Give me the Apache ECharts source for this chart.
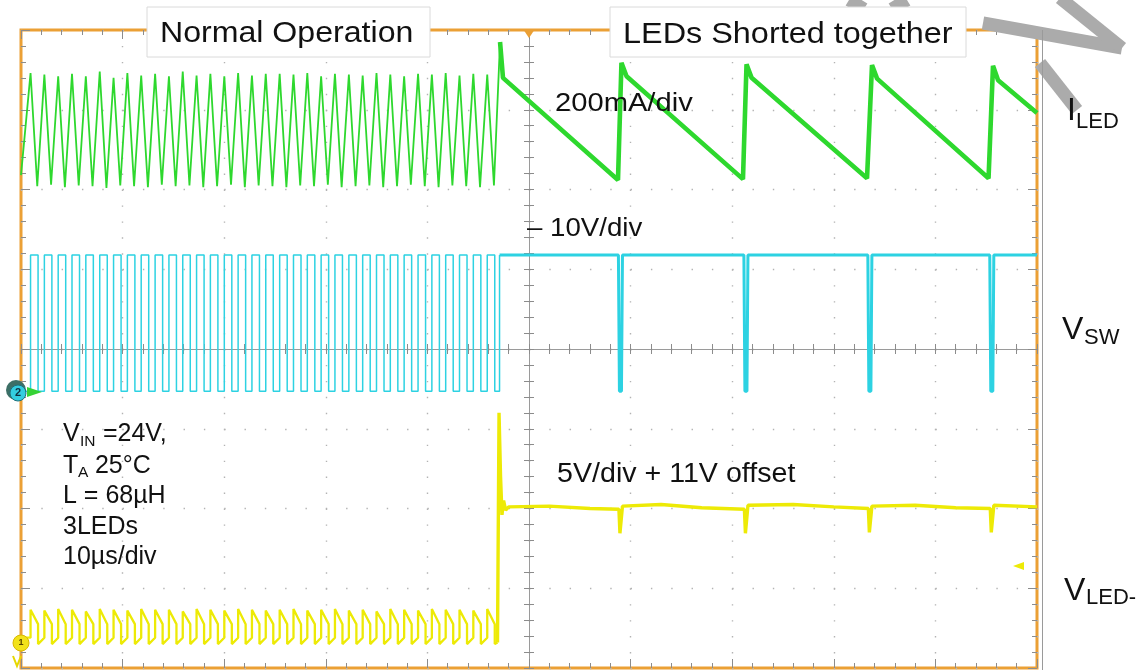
<!DOCTYPE html>
<html><head><meta charset="utf-8">
<script src="https://cdn.jsdelivr.net/npm/echarts@6/dist/echarts.min.js"></script>
<style>html,body{margin:0;padding:0;background:#fff}#c{width:1138px;height:670px}</style>
</head><body><div id="c"></div>
<script>
// ---- Axis ranges (time in µs, 10 µs/div, trigger at 0; vertical in divisions) ----
const xRange = [-50, 50];
const yRange = [-4, 4];

// ---- Normal operation: switching instants (µs) ----
const cycleT = [-49.06,-47.70,-46.34,-44.98,-43.62,-42.25,-40.89,-39.53,-38.17,-36.80,-35.44,-34.08,-32.72,-31.36,-29.99,-28.63,-27.27,-25.91,-24.54,-23.18,-21.82,-20.46,-19.10,-17.73,-16.37,-15.01,-13.65,-12.29,-10.92,-9.56,-8.20,-6.84,-5.48,-4.11];
const swFallT = [-48.32,-46.96,-45.60,-44.24,-42.88,-41.51,-40.15,-38.79,-37.43,-36.06,-34.70,-33.34,-31.98,-30.62,-29.25,-27.89,-26.53,-25.17,-23.80,-22.44,-21.08,-19.72,-18.36,-16.99,-15.63,-14.27,-12.91,-11.55,-10.18,-8.82,-7.46,-6.10,-4.74,-3.37];

// I_LED (green), divisions
const iledStart = [-50, 2.18];
const iledPeakV = [3.46,3.44,3.42,3.45,3.42,3.48,3.40,3.46,3.43,3.45,3.42,3.48,3.43,3.45,3.42,3.46,3.43,3.45,3.45,3.44,3.46,3.42,3.45,3.44,3.43,3.46,3.44,3.42,3.45,3.44,3.46,3.43,3.45,3.44];
const iledTroughT = [-48.40,-47.04,-45.68,-44.32,-42.96,-41.59,-40.23,-38.87,-37.51,-36.14,-34.78,-33.42,-32.06,-30.70,-29.33,-27.97,-26.61,-25.25,-23.88,-22.52,-21.16,-19.80,-18.44,-17.07,-15.71,-14.35,-12.99,-11.63,-10.26,-8.90,-7.54,-6.18,-4.82,-3.45];
const iledTroughV = [2.04,2.06,2.03,2.05,2.04,2.02,2.05,2.04,2.03,2.06,2.04,2.05,2.03,2.04,2.06,2.03,2.05,2.04,2.03,2.05,2.04,2.06,2.03,2.04,2.05,2.03,2.04,2.06,2.04,2.03,2.05,2.04,2.03,2.05];
// LEDs shorted
const iledShortT = [-2.85,-2.56,8.76,9.10,9.60,21.06,21.41,21.91,33.27,33.76,34.26,45.23,45.67,46.17,50];
const iledShortV = [3.85,3.40,2.12,3.59,3.42,2.13,3.57,3.40,2.14,3.56,3.39,2.14,3.55,3.37,2.96];

// V_SW (cyan), divisions
const swHighV = 1.18;
const swLowV = -0.53;
const swShortT = [-2.90,8.80,8.90,9.10,9.20,21.15,21.25,21.45,21.55,33.35,33.45,33.65,33.75,45.35,45.45,45.65,45.75,50];
const swShortV = [1.18,1.18,-0.53,-0.53,1.18,1.18,-0.53,-0.53,1.18,1.18,-0.53,-0.53,1.18,1.18,-0.53,-0.53,1.18,1.18];

// V_LED- (yellow), divisions
const vledPeakV = [-3.27,-3.28,-3.26,-3.27,-3.29,-3.26,-3.27,-3.28,-3.26,-3.27,-3.27,-3.29,-3.26,-3.27,-3.28,-3.26,-3.27,-3.28,-3.27,-3.26,-3.28,-3.27,-3.26,-3.28,-3.27,-3.29,-3.26,-3.27,-3.28,-3.26,-3.27,-3.27,-3.28,-3.26];
const vledMidV = -3.45;
const vledLowStartV = -3.70;
const vledLowEndV = -3.62;
const vledShortT = [-3.10,-2.95,-2.80,-2.66,-2.50,-2.30,-2.00,2.0,6.0,8.85,8.95,9.10,9.20,13.0,17.0,21.20,21.30,21.45,21.55,26.0,30.0,33.40,33.50,33.65,33.75,38.0,42.0,45.40,45.50,45.65,45.75,50];
const vledShortV = [-3.68,-0.80,-1.60,-2.08,-1.90,-2.02,-1.98,-1.97,-2.00,-2.01,-2.31,-2.31,-1.97,-1.95,-1.99,-2.01,-2.31,-2.31,-1.96,-1.95,-1.98,-2.00,-2.30,-2.30,-1.97,-1.96,-1.99,-2.00,-2.30,-2.30,-1.96,-1.98];

// ---- build series data from the arrays ----
const iledNormal = [iledStart];
for (let k = 0; k < cycleT.length; k++) {
  iledNormal.push([cycleT[k], iledPeakV[k]]);
  iledNormal.push([iledTroughT[k], iledTroughV[k]]);
}
iledNormal.push([iledShortT[0], iledShortV[0]]);
const iledShort = iledShortT.map((t, i) => [t, iledShortV[i]]);

const swNormal = [[xRange[0], swLowV]];
for (let k = 0; k < cycleT.length; k++) {
  swNormal.push([cycleT[k], swLowV], [cycleT[k], swHighV], [swFallT[k], swHighV], [swFallT[k], swLowV]);
}
swNormal.push([swShortT[0], swLowV], [swShortT[0], swHighV]);
const swShort = swShortT.map((t, i) => [t, swShortV[i]]);

const vledNormal = [[xRange[0], vledLowEndV]];
for (let k = 0; k < cycleT.length; k++) {
  vledNormal.push([cycleT[k], vledLowEndV], [cycleT[k], vledPeakV[k]], [swFallT[k], vledMidV], [swFallT[k], vledLowStartV]);
}
vledNormal.push([vledShortT[0], vledShortV[0]]);
const vledShort = vledShortT.map((t, i) => [t, vledShortV[i]]);

// ---- styling ----
const ORANGE = '#EBA035';
const GREEN = '#2ED82E';
const CYAN = '#2DD2E2';
const YELLOW = '#EDEA06';
const TICK = '#8c8c8c';
const FONT = "'Liberation Sans', Arial, sans-serif";

function xAxisDef(pos, onZero, inside, showLine, split) {
  return {
    type: 'value', min: xRange[0], max: xRange[1], interval: 10, position: pos,
    axisLine: { show: showLine, onZero: onZero, onZeroAxisIndex: 0, lineStyle: { color: '#9a9a9a', width: 1 } },
    axisTick: { show: true, inside: inside, length: onZero ? 5 : 9, lineStyle: { color: TICK, width: 1 } },
    minorTick: { show: true, splitNumber: 5, length: 5, lineStyle: { color: TICK, width: 1 } },
    axisLabel: { show: false },
    splitLine: { show: split, lineStyle: { color: '#b3b3b3', width: 1.4, type: [1.4, 14.55] } },
    minorSplitLine: { show: false }
  };
}
function yAxisDef(pos, onZero, inside, showLine, split) {
  return {
    type: 'value', min: yRange[0], max: yRange[1], interval: 1, position: pos,
    axisLine: { show: showLine, onZero: onZero, onZeroAxisIndex: 0, lineStyle: { color: '#9a9a9a', width: 1 } },
    axisTick: { show: true, inside: inside, length: onZero ? 5 : 9, lineStyle: { color: TICK, width: 1 } },
    minorTick: { show: true, splitNumber: 5, length: 5, lineStyle: { color: TICK, width: 1 } },
    axisLabel: { show: false },
    splitLine: { show: split, lineStyle: { color: '#b3b3b3', width: 1.4, type: [1.4, 18.92] } },
    minorSplitLine: { show: false }
  };
}

function txt(text, x, y, size, opts) {
  opts = opts || {};
  return {
    type: 'text', x: x, y: y, z: 101, scaleX: opts.sx || 1,
    style: { text: text, font: `${size}px ${FONT}`, fill: opts.fill || '#111', align: 'left', verticalAlign: 'middle' }
  };
}
function line(points, color, width, z) {
  return { type: 'polyline', z: z, shape: { points: points }, style: { stroke: color, lineWidth: width, fill: null } };
}

const chart = echarts.init(document.getElementById('c'), null, { renderer: 'canvas' });
chart.setOption({
  animation: false,
  backgroundColor: '#fff',
  grid: { left: 21, top: 30, width: 1016, height: 638, show: true, borderColor: ORANGE, borderWidth: 3, backgroundColor: '#fff', containLabel: false, outerBoundsMode: 'none' },
  xAxis: [
    xAxisDef('bottom', false, true, false, true),
    xAxisDef('top', false, true, false, false),
    xAxisDef('bottom', true, false, true, false),
    xAxisDef('top', true, false, false, false)
  ],
  yAxis: [
    yAxisDef('left', false, true, false, true),
    yAxisDef('right', false, true, false, false),
    yAxisDef('left', true, false, true, false),
    yAxisDef('right', true, false, false, false)
  ],
  series: [
    { name: 'VLED normal', type: 'line', data: vledNormal, showSymbol: false, lineStyle: { color: YELLOW, width: 2.3 }, z: 3 },
    { name: 'VLED short', type: 'line', data: vledShort, showSymbol: false, lineStyle: { color: YELLOW, width: 3.4 }, z: 3 },
    { name: 'VSW normal', type: 'line', data: swNormal, showSymbol: false, lineStyle: { color: CYAN, width: 1.5 }, z: 4 },
    { name: 'VSW short', type: 'line', data: swShort, showSymbol: false, lineStyle: { color: CYAN, width: 3 }, z: 4 },
    { name: 'ILED normal', type: 'line', data: iledNormal, showSymbol: false, lineStyle: { color: GREEN, width: 1.8 }, z: 5 },
    { name: 'ILED short', type: 'line', data: iledShort, showSymbol: false, lineStyle: { color: GREEN, width: 4.6 }, z: 5 }
  ],
  graphic: [
    // watermark fragments
    line([[849, 0], [864, 9]], '#ababab', 13, 99),
    line([[907, 0], [892, 9]], '#ababab', 13, 99),
    line([[983, 23], [1122, 48]], '#ababab', 13, 99),
    line([[1060, -2], [1122, 48]], '#ababab', 13, 99),
    line([[1040, 63], [1077, 110]], '#ababab', 13, 99),
    // screen edge
    line([[1042.5, 30], [1042.5, 670]], '#9a9a9a', 1, 99),
    // title boxes
    { type: 'rect', z: 100, shape: { x: 147, y: 7, width: 283, height: 50 }, style: { fill: '#fff', stroke: '#dadada', lineWidth: 1 } },
    { type: 'rect', z: 100, shape: { x: 610, y: 7, width: 356, height: 50 }, style: { fill: '#fff', stroke: '#dadada', lineWidth: 1 } },
    txt('Normal Operation', 160, 34, 30, { sx: 1.07 }),
    txt('LEDs Shorted together', 623, 34.5, 30, { sx: 1.08 }),
    txt('200mA/div', 555, 103.5, 26.5, { sx: 1.1 }),
    txt('\u2013 10V/div', 527, 229, 25.6, { sx: 1.08 }),
    txt('5V/div + 11V offset', 557, 475, 27, { sx: 1.06 }),
    // conditions block
    txt('V', 63, 434, 25), txt('IN', 80, 441.5, 15.5), txt(' =24V,', 96, 434, 25),
    txt('T', 63, 466, 25), txt('A', 78, 473, 15.5), txt(' 25\u00B0C', 88, 466, 25),
    txt('L = 68\u00B5H', 63, 496, 25),
    txt('3LEDs', 63, 527.5, 25),
    txt('10\u00B5s/div', 63, 557.5, 25),
    // right side trace names
    txt('I', 1067, 111.5, 32), txt('LED', 1076, 121.5, 22),
    txt('V', 1062, 330, 32), txt('SW', 1084, 338, 22),
    txt('V', 1064, 591.5, 32), txt('LED-', 1086, 598, 22),
    // trigger position marker (top)
    { type: 'polygon', z: 102, shape: { points: [[523, 29], [535, 29], [529, 38]] }, style: { fill: ORANGE } },
    // trigger level marker (yellow)
    { type: 'polygon', z: 102, shape: { points: [[1013, 566], [1024, 562], [1024, 570]] }, style: { fill: YELLOW } },
    // channel 2 marker
    { type: 'circle', z: 102, shape: { cx: 16, cy: 390, r: 10 }, style: { fill: '#3d6f66' } },
    { type: 'circle', z: 103, shape: { cx: 18, cy: 393, r: 8 }, style: { fill: '#33cde0', stroke: '#1f6f7a', lineWidth: 1 } },
    { type: 'text', z: 104, x: 18, y: 393, style: { text: '2', font: `bold 11px ${FONT}`, fill: '#103040', align: 'center', verticalAlign: 'middle' } },
    { type: 'polygon', z: 102, shape: { points: [[27, 387], [42, 392], [27, 397]] }, style: { fill: '#35d235' } },
    // channel 1 marker
    { type: 'circle', z: 102, shape: { cx: 21, cy: 643, r: 8 }, style: { fill: '#f2e21a', stroke: '#d9b800', lineWidth: 1 } },
    { type: 'text', z: 103, x: 21, y: 643, style: { text: '1', font: `bold 9px ${FONT}`, fill: '#554400', align: 'center', verticalAlign: 'middle' } },
    line([[13, 656], [17, 666], [21, 656]], '#e6d800', 2, 102)
  ]
});
</script>
</body></html>
